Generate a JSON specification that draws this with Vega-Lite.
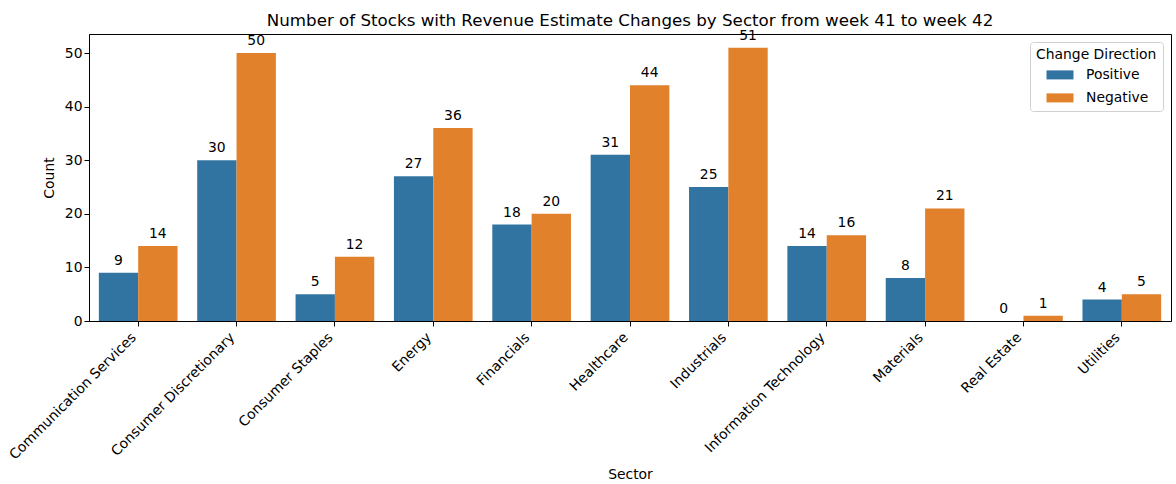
{
  "$schema": "https://vega.github.io/schema/vega-lite/v6.json",
  "autosize": {"type": "none"},
  "padding": {"left": 89, "top": 34, "right": 5, "bottom": 163},
  "width": 1082,
  "height": 287,
  "config": {
    "font": "DejaVu Sans",
    "view": {"stroke": "black", "strokeWidth": 1},
    "axis": {"labelFont": "DejaVu Sans", "titleFont": "DejaVu Sans", "labelFontSize": 13.9, "titleFontSize": 13.9, "titleFontWeight": "normal", "labelColor": "black", "titleColor": "black", "tickColor": "black", "domainColor": "black", "grid": false, "tickSize": 5}
  },
  "title": {"text": "Number of Stocks with Revenue Estimate Changes by Sector from week 41 to week 42", "fontSize": 16.7, "fontWeight": "normal", "font": "DejaVu Sans", "offset": -1, "color": "black"},
  "data": {"values": [
    {"Sector": "Communication Services", "Direction": "Positive", "Count": 9},
    {"Sector": "Communication Services", "Direction": "Negative", "Count": 14},
    {"Sector": "Consumer Discretionary", "Direction": "Positive", "Count": 30},
    {"Sector": "Consumer Discretionary", "Direction": "Negative", "Count": 50},
    {"Sector": "Consumer Staples", "Direction": "Positive", "Count": 5},
    {"Sector": "Consumer Staples", "Direction": "Negative", "Count": 12},
    {"Sector": "Energy", "Direction": "Positive", "Count": 27},
    {"Sector": "Energy", "Direction": "Negative", "Count": 36},
    {"Sector": "Financials", "Direction": "Positive", "Count": 18},
    {"Sector": "Financials", "Direction": "Negative", "Count": 20},
    {"Sector": "Healthcare", "Direction": "Positive", "Count": 31},
    {"Sector": "Healthcare", "Direction": "Negative", "Count": 44},
    {"Sector": "Industrials", "Direction": "Positive", "Count": 25},
    {"Sector": "Industrials", "Direction": "Negative", "Count": 51},
    {"Sector": "Information Technology", "Direction": "Positive", "Count": 14},
    {"Sector": "Information Technology", "Direction": "Negative", "Count": 16},
    {"Sector": "Materials", "Direction": "Positive", "Count": 8},
    {"Sector": "Materials", "Direction": "Negative", "Count": 21},
    {"Sector": "Real Estate", "Direction": "Positive", "Count": 0},
    {"Sector": "Real Estate", "Direction": "Negative", "Count": 1},
    {"Sector": "Utilities", "Direction": "Positive", "Count": 4},
    {"Sector": "Utilities", "Direction": "Negative", "Count": 5}
  ]},
  "encoding": {
    "x": {"field": "Sector", "type": "nominal", "sort": null,
      "scale": {"paddingInner": 0.2, "paddingOuter": 0.1},
      "axis": {"labelAngle": -45, "labelAlign": "right", "labelBaseline": "top", "title": "Sector", "titlePadding": 6, "labelPadding": 4, "labelOffset": -9, "labelLimit": 300}},
    "xOffset": {"field": "Direction", "type": "nominal", "sort": ["Positive", "Negative"], "scale": {"paddingInner": 0, "paddingOuter": 0}},
    "y": {"field": "Count", "type": "quantitative", "scale": {"domain": [0, 53.55], "nice": false},
      "axis": {"values": [0, 10, 20, 30, 40, 50], "title": "Count", "titlePadding": 8}}
  },
  "layer": [
    {"mark": {"type": "bar"},
     "encoding": {
       "color": {"field": "Direction", "type": "nominal", "sort": ["Positive", "Negative"],
         "scale": {"domain": ["Positive", "Negative"], "range": ["#3274a1", "#e1812c"]},
         "legend": {"title": "Change Direction", "orient": "top-right", "offset": 8, "strokeColor": "#d0d0d0", "fillColor": "white", "padding": 6, "cornerRadius": 3, "symbolType": "M-1.5,-0.5L1.5,-0.5L1.5,0.5L-1.5,0.5Z", "symbolSize": 324, "symbolStrokeWidth": 0, "symbolOffset": 15, "labelFontSize": 13.9, "titleFontSize": 13.9, "titleFontWeight": "normal", "labelFont": "DejaVu Sans", "titleFont": "DejaVu Sans", "rowPadding": 7, "titlePadding": 4, "labelOffset": 17, "labelColor": "black", "titleColor": "black"}
       }}},
    {"mark": {"type": "text", "dy": -12, "fontSize": 13.9, "color": "black", "font": "DejaVu Sans"},
     "encoding": {"text": {"field": "Count", "type": "quantitative"}}}
  ]
}
